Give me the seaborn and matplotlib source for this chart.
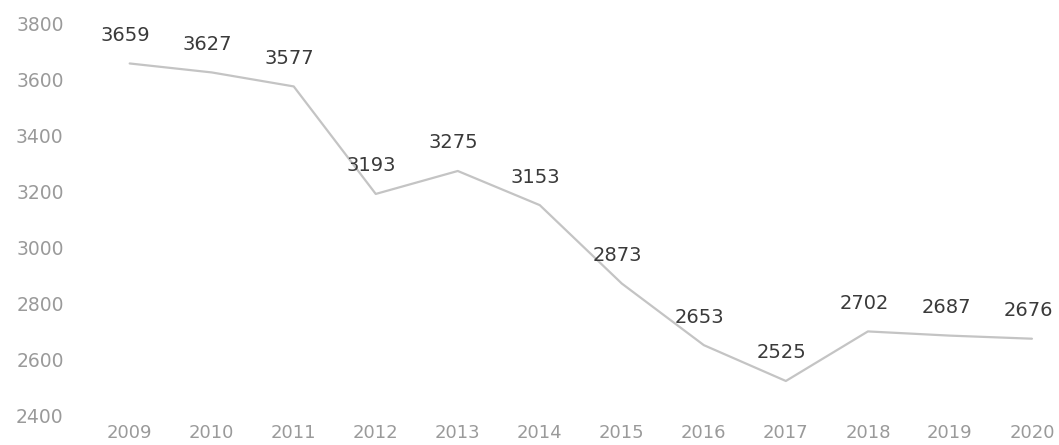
import pandas as pd
import seaborn as sns
import matplotlib.pyplot as plt

# dados
anos = [2009, 2010, 2011, 2012, 2013, 2014, 2015, 2016, 2017, 2018, 2019, 2020]
valores = [3659, 3627, 3577, 3193, 3275, 3153, 2873, 2653, 2525, 2702, 2687, 2676]
yticks = [2400, 2600, 2800, 3000, 3200, 3400, 3600, 3800]

df = pd.DataFrame({'ano': anos, 'valor': valores})

sns.set_theme(style="white")
plt.rcParams['font.family'] = ['DejaVu Sans']

fig = plt.figure(figsize=(10.59, 4.45), dpi=100)
ax = fig.add_axes([0.068, 0.0652, 0.932, 0.8809])

sns.lineplot(data=df, x='ano', y='valor', color='#c4c4c4', linewidth=1.6, ax=ax)

# rótulos dos pontos
for a, v in zip(anos, valores):
    ax.annotate(str(v), (a, v), xytext=(-4, 28), textcoords='offset pixels',
                ha='center', va='center', fontsize=14, color='#3a3a3a')

ax.set_xlim(2008.297, 2020.33)
ax.set_ylim(2400, 3800)
ax.set_xticks(anos)
ax.set_xticklabels([str(a) for a in anos])
ax.set_yticks(yticks)
ax.tick_params(axis='x', length=0, pad=6, labelsize=13, labelcolor='#9a9a9a')
ax.tick_params(axis='y', length=0, pad=6, labelsize=13.5, labelcolor='#9a9a9a')
ax.set_xlabel('')
ax.set_ylabel('')
sns.despine(left=True, bottom=True)
ax.grid(False)

plt.savefig('out.png', dpi=100)
